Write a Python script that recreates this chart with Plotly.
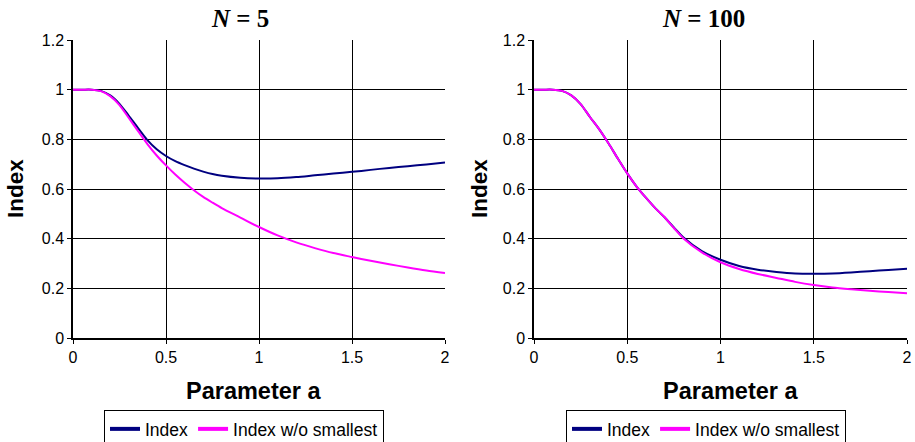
import plotly.graph_objects as go

a_vals = [0, 0.05, 0.1, 0.15, 0.2, 0.25, 0.3, 0.35, 0.4, 0.45, 0.5, 0.55, 0.6, 0.65, 0.7, 0.75,
          0.8, 0.9, 1.0, 1.1, 1.2, 1.3, 1.4, 1.5, 1.6, 1.7, 1.8, 1.9, 2.0]

n5_index = [1.0, 1.0, 1.0, 0.995, 0.977, 0.943, 0.895, 0.845, 0.797, 0.76, 0.733, 0.712, 0.696,
            0.682, 0.67, 0.66, 0.653, 0.645, 0.642, 0.643, 0.648, 0.655, 0.662, 0.669, 0.677,
            0.685, 0.692, 0.699, 0.707]
n5_wo = [1.0, 1.0, 1.0, 0.994, 0.974, 0.938, 0.886, 0.833, 0.781, 0.735, 0.695, 0.658, 0.625,
         0.595, 0.568, 0.545, 0.523, 0.485, 0.447, 0.413, 0.385, 0.362, 0.342, 0.326, 0.311,
         0.297, 0.284, 0.272, 0.262]

n100_index = [1.0, 1.0, 1.0, 0.995, 0.977, 0.942, 0.89, 0.84, 0.783, 0.722, 0.663, 0.61, 0.565,
              0.523, 0.486, 0.445, 0.406, 0.35, 0.315, 0.29, 0.275, 0.266, 0.26, 0.259, 0.26,
              0.264, 0.269, 0.274, 0.279]
n100_wo = [1.0, 1.0, 1.0, 0.995, 0.977, 0.942, 0.89, 0.84, 0.783, 0.722, 0.663, 0.61, 0.565,
           0.523, 0.486, 0.443, 0.402, 0.345, 0.305, 0.278, 0.258, 0.242, 0.226, 0.213, 0.203,
           0.196, 0.19, 0.185, 0.18]

titles = ["<b><i>N</i> = 5</b>", "<b><i>N</i> = 100</b>"]
x_ticks = [0, 0.5, 1, 1.5, 2]
x_tick_labels = ["0", "0.5", "1", "1.5", "2"]
y_ticks = [0, 0.2, 0.4, 0.6, 0.8, 1.0, 1.2]
y_tick_labels = ["0", "0.2", "0.4", "0.6", "0.8", "1", "1.2"]
series_names = ["Index", "Index w/o smallest"]

NAVY = "#000080"
MAGENTA = "#FF00FF"
FONT = "Liberation Sans, Arial, sans-serif"

fig = go.Figure()

panels = [
    ("x", "y", "legend", n5_index, n5_wo),
    ("x2", "y2", "legend2", n100_index, n100_wo),
]
for xa, ya, lg, s1, s2 in panels:
    for name, vals, col in [(series_names[0], s1, NAVY), (series_names[1], s2, MAGENTA)]:
        fig.add_trace(go.Scatter(x=a_vals, y=vals, mode="lines", xaxis=xa, yaxis=ya,
                                 line=dict(color=col, width=2, shape="spline", smoothing=0.8),
                                 showlegend=False, hoverinfo="skip"))
        fig.add_trace(go.Scatter(x=[None], y=[None], mode="lines", xaxis=xa, yaxis=ya,
                                 name=name, legend=lg,
                                 line=dict(color=col, width=4), showlegend=True))

doms_x = [[73 / 915, 445 / 915], [534 / 915, 907 / 915]]
dom_y = [1 - 338 / 442, 1 - 40 / 442]

axis_common = dict(showgrid=True, gridcolor="black", gridwidth=1, showline=True,
                   linecolor="black", linewidth=1.5, ticks="outside", ticklen=4,
                   tickcolor="black", zeroline=False, mirror=False,
                   tickfont=dict(family=FONT, size=16, color="black"))

layout = dict(
    width=915, height=442, margin=dict(l=0, r=0, t=0, b=0, autoexpand=False),
    paper_bgcolor="white", plot_bgcolor="white",
    font=dict(family=FONT, color="black"),
)
for i, sfx in enumerate(["", "2"]):
    layout["xaxis" + sfx] = dict(axis_common, domain=doms_x[i], range=[0, 2],
                                 tickvals=x_ticks, ticktext=x_tick_labels,
                                 anchor="y" + sfx)
    layout["yaxis" + sfx] = dict(axis_common, domain=dom_y, range=[0, 1.2],
                                 tickvals=y_ticks, ticktext=y_tick_labels,
                                 anchor="x" + sfx)

legend_common = dict(orientation="h", bordercolor="black", borderwidth=1,
                     bgcolor="white", font=dict(family=FONT, size=17.5, color="black"),
                     xanchor="left", yanchor="top", y=1 - 410 / 442,
                     itemwidth=30, tracegroupgap=0)
layout["legend"] = dict(legend_common, x=104 / 915)
layout["legend2"] = dict(legend_common, x=566 / 915)

fig.update_layout(**layout)

anns = []
title_centers = [240, 703]
xlabel_centers = [253, 730]
for i in range(2):
    anns.append(dict(text=titles[i], x=title_centers[i] / 915, y=1 - 19 / 442,
                     xref="paper", yref="paper",
                     showarrow=False, xanchor="center", yanchor="middle",
                     font=dict(family="Liberation Serif, Times New Roman, serif", size=25, color="black")))
    anns.append(dict(text="<b>Parameter a</b>", x=xlabel_centers[i] / 915, y=1 - 391 / 442,
                     xref="paper", yref="paper",
                     showarrow=False, xanchor="center", yanchor="middle",
                     font=dict(family=FONT, size=23.5, color="black")))
for xpx in [15, 479]:
    anns.append(dict(text="<b>Index</b>", x=xpx / 915, y=1 - 189 / 442, xref="paper", yref="paper",
                     showarrow=False, xanchor="center", yanchor="middle", textangle=-90,
                     font=dict(family=FONT, size=22.5, color="black")))
fig.update_layout(annotations=anns)

fig.write_html("out.html")
